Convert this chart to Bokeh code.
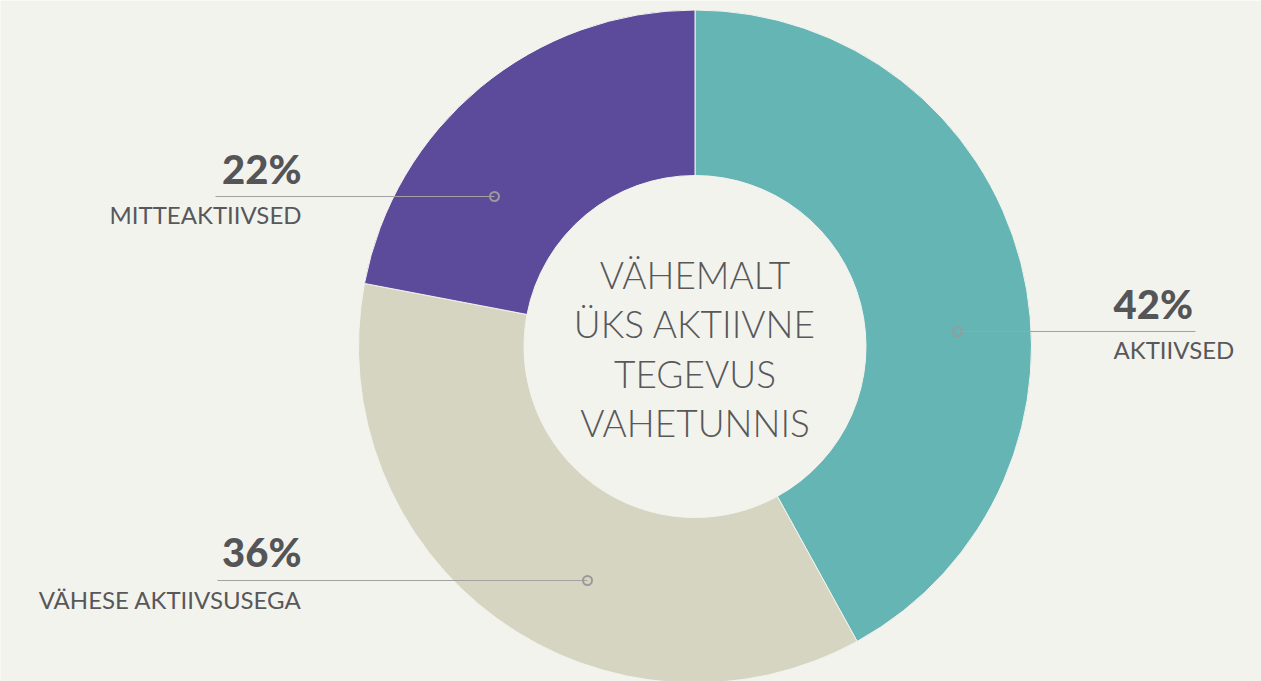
import math
from bokeh.plotting import figure
from bokeh.models import Range1d, ColumnDataSource
from bokeh.core.properties import value
from bokeh.embed import file_html
from bokeh.resources import INLINE

# ---- data ----
categories = ["AKTIIVSED", "VÄHESE AKTIIVSUSEGA", "MITTEAKTIIVSED"]
shares = [42, 36, 22]
colors = ["#65b5b5", "#d6d5c2", "#5c4b9a"]
center_lines = ["VÄHEMALT", "ÜKS AKTIIVNE", "TEGEVUS", "VAHETUNNIS"]

BG = "#f3f3ee"
TXT = "#58585a"
LINE = "#a2a2a2"

W, H = 1261, 681

def py(y_page):
    return H - y_page

p = figure(width=W, height=H, output_backend="svg", toolbar_location=None,
           x_range=Range1d(0, W), y_range=Range1d(0, H),
           min_border=0, background_fill_color=BG, border_fill_color=BG,
           outline_line_color=None)
p.axis.visible = False
p.grid.visible = False

# ---- donut ----
cx, cy = 694.5, py(346)
r_out, r_in = 336.5, 171
total = sum(shares)
starts, ends = [], []
a = math.pi / 2
for s in shares:
    starts.append(a)
    a -= s / total * 2 * math.pi
    ends.append(a)
src = ColumnDataSource(dict(start=starts, end=ends, color=colors))
p.annular_wedge(x=cx, y=cy, inner_radius=r_in, outer_radius=r_out,
                start_angle="start", end_angle="end", direction="clock",
                fill_color="color", line_color=BG, line_width=1, source=src)

# text baseline compensation (svg text renders lower than the anchor)
NUM_DY, LAB_DY, CEN_DY = 16, 8.5, 15

# ---- center text ----
p.text(x=[cx] * len(center_lines),
       y=[py(289 + i * 49.3) + CEN_DY for i in range(len(center_lines))],
       text=center_lines, text_align="center", text_baseline="alphabetic",
       text_font=value("'Lato Light', Lato"), text_font_size="37px", text_color=TXT)

# ---- labels (layout per category) ----
# (text anchor x, align, number baseline, line x0, marker x, line y, label baseline)
layout = {
    "AKTIIVSED": (1113, "left", 319, 1195, 957, 331, 357),
    "VÄHESE AKTIIVSUSEGA": (301, "right", 567, 217, 587, 580, 607),
    "MITTEAKTIIVSED": (301, "right", 184, 215, 494, 196, 222),
}
for cat, s in zip(categories, shares):
    tx, al, nb, x0, xm, ly, lb = layout[cat]
    p.segment(x0=[x0], y0=[py(ly)], x1=[xm], y1=[py(ly)], line_color=LINE, line_width=1.2)
    p.scatter(x=[xm], y=[py(ly)], size=9, marker="circle", fill_color=None,
              line_color="#9a9a9a", line_width=2)
    p.text(x=[tx], y=[py(nb) + NUM_DY], text=[f"{s}%"], text_align=al,
           text_baseline="alphabetic",
           text_font=value("'Lato Black', Lato"), text_font_style="bold",
           text_font_size="40px", text_color="#555557")
    p.text(x=[tx], y=[py(lb) + LAB_DY], text=[cat], text_align=al,
           text_baseline="alphabetic",
           text_font=value("Lato"), text_font_size="24px", text_color=TXT)

open("out.html", "w").write(file_html(p, INLINE))
